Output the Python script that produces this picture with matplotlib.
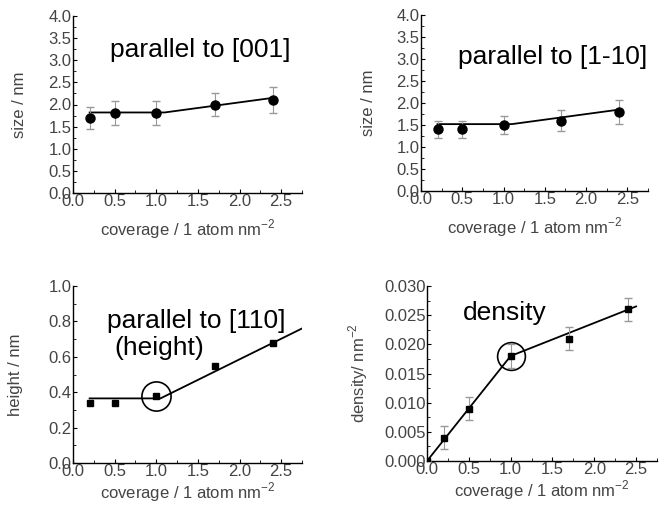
import matplotlib
matplotlib.use('Agg')
import matplotlib.pyplot as plt
from matplotlib.ticker import MultipleLocator

plt.rcParams['font.family'] = ['Liberation Sans', 'DejaVu Sans']
plt.rcParams['mathtext.fontset'] = 'custom'
plt.rcParams['mathtext.rm'] = 'Liberation Sans'

# coverage values (1 atom nm^-2)
coverage = [0.2, 0.5, 1.0, 1.7, 2.4]
coverage_dens = [0.0, 0.2, 0.5, 1.0, 1.7, 2.4]

# island size parallel to [001]
size_001 = [1.7, 1.8, 1.8, 2.0, 2.1]
size_001_err = [0.25, 0.27, 0.27, 0.27, 0.29]
fit_001_x = [0.2, 1.1, 2.4]
fit_001_y = [1.82, 1.82, 2.15]

# island size parallel to [1-10]
size_110 = [1.4, 1.4, 1.5, 1.6, 1.8]
size_110_err = [0.2, 0.2, 0.2, 0.23, 0.27]
fit_110_x = [0.2, 1.1, 2.4]
fit_110_y = [1.52, 1.52, 1.85]

# height parallel to [110]
height = [0.34, 0.34, 0.38, 0.55, 0.68]
fit_h_x = [0.2, 1.05, 2.75]
fit_h_y = [0.365, 0.365, 0.76]

# island density
density = [0.0, 0.004, 0.009, 0.018, 0.021, 0.026]
density_err = [0.0, 0.002, 0.002, 0.002, 0.002, 0.002]
fit_d_x = [0.0, 1.0, 2.5]
fit_d_y = [0.0, 0.018, 0.0265]

tick_col = '#444444'
err_col = '#999999'
xlab = 'coverage / 1 atom nm$^{-2}$'
tfs = 12      # tick / axis label size
big = 19      # panel caption size

fig = plt.figure(figsize=(6.69, 5.18), dpi=100)
ax1 = fig.add_axes([73/669, 1-193/518, 229/669, 177/518])
ax2 = fig.add_axes([421/669, 1-191/518, 227/669, 176/518])
ax3 = fig.add_axes([73/669, 1-463/518, 229/669, 177/518])
ax4 = fig.add_axes([427/669, 1-461/518, 230/669, 175/518])


def style(ax, ymax, ymajor, yfmt, xpad):
    for s in ['top', 'right']:
        ax.spines[s].set_visible(False)
    for s in ['left', 'bottom']:
        ax.spines[s].set_linewidth(1.0)
    ax.set_xlim(0, 2.75)
    ax.set_ylim(0, ymax)
    ax.xaxis.set_major_locator(MultipleLocator(0.5))
    ax.xaxis.set_minor_locator(MultipleLocator(0.25))
    ax.yaxis.set_major_locator(MultipleLocator(ymajor))
    ax.yaxis.set_minor_locator(MultipleLocator(ymajor/2))
    ax.tick_params(which='both', direction='in', labelsize=tfs,
                   labelcolor=tick_col, pad=1)
    ax.tick_params(which='major', length=3)
    ax.tick_params(which='minor', length=2)
    ax.yaxis.set_major_formatter(plt.FormatStrFormatter(yfmt))
    ax.xaxis.set_major_formatter(plt.FormatStrFormatter('%.1f'))
    ax.set_xlabel(xlab, fontsize=tfs, color=tick_col, labelpad=xpad)


# size along [001]
style(ax1, 4.0, 0.5, '%.1f', 6)
ax1.errorbar(coverage, size_001, yerr=size_001_err, fmt='o', color='black',
             ms=6.5, ecolor=err_col, elinewidth=0.8, capsize=3, zorder=3)
ax1.plot(fit_001_x, fit_001_y, color='black', lw=1.3)
ax1.set_ylabel('size / nm', fontsize=tfs, color=tick_col)
ax1.yaxis.set_label_coords(-0.20, 0.5)
ax1.text(0.44, 3.23, 'parallel to [001]', fontsize=big, va='center')

# size along [1-10]
style(ax2, 4.0, 0.5, '%.1f', 6)
ax2.errorbar(coverage, size_110, yerr=size_110_err, fmt='o', color='black',
             ms=6.5, ecolor=err_col, elinewidth=0.8, capsize=3, zorder=3)
ax2.plot(fit_110_x, fit_110_y, color='black', lw=1.3)
ax2.set_ylabel('size / nm', fontsize=tfs, color=tick_col)
ax2.yaxis.set_label_coords(-0.20, 0.5)
ax2.text(0.45, 3.05, 'parallel to [1-10]', fontsize=big, va='center')

# height along [110]
style(ax3, 1.0, 0.2, '%.1f', 1)
ax3.plot(coverage, height, 's', color='black', ms=5, zorder=3)
ax3.plot(fit_h_x, fit_h_y, color='black', lw=1.3)
ax3.plot([coverage[2]], [height[2]], 'o', mfc='none', mec='black', ms=21, mew=1.2)
ax3.set_ylabel('height / nm', fontsize=tfs, color=tick_col)
ax3.yaxis.set_label_coords(-0.22, 0.5)
ax3.text(0.41, 0.80, 'parallel to [110]', fontsize=big, va='center')
ax3.text(0.50, 0.65, '(height)', fontsize=big, va='center')

# density
style(ax4, 0.030, 0.005, '%.3f', 1)
ax4.errorbar(coverage_dens, density, yerr=density_err, fmt='s', color='black',
             ms=5, ecolor=err_col, elinewidth=0.8, capsize=3, zorder=3)
ax4.plot(fit_d_x, fit_d_y, color='black', lw=1.3)
ax4.plot([coverage_dens[3]], [density[3]], 'o', mfc='none', mec='black', ms=20, mew=1.2)
ax4.set_ylabel('density/ nm$^{-2}$', fontsize=tfs, color=tick_col)
ax4.yaxis.set_label_coords(-0.25, 0.5)
ax4.text(0.43, 0.0254, 'density', fontsize=big, va='center')

fig.savefig('out.png', dpi=100, facecolor='white')
